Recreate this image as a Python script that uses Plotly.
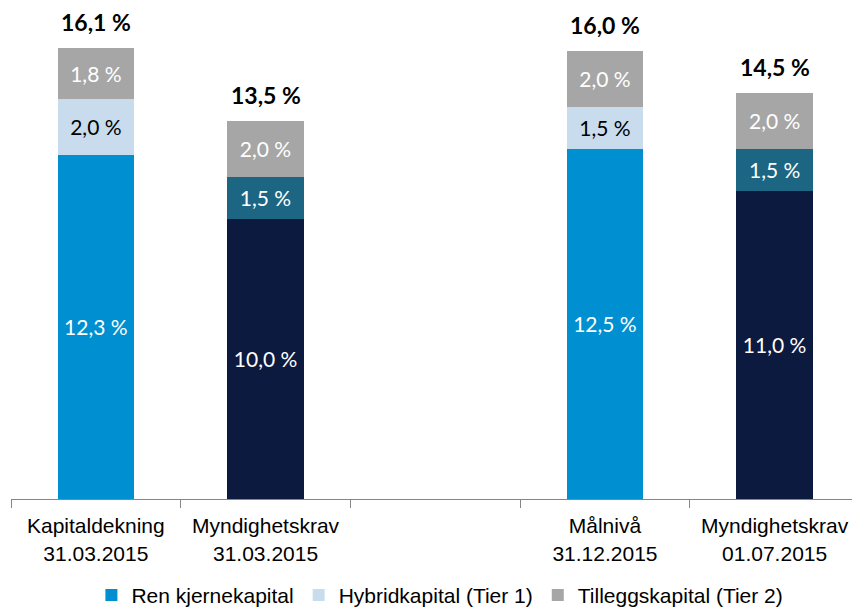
import plotly.graph_objects as go

categories = ["Kapitaldekning<br>31.03.2015", "Myndighetskrav<br>31.03.2015", "",
              "Målnivå<br>31.12.2015", "Myndighetskrav<br>01.07.2015"]
x_pos = [0, 1, 3, 4]
ren_kjerne = [12.3, 10.0, 12.5, 11.0]
hybrid = [2.0, 1.5, 1.5, 1.5]
tillegg = [1.8, 2.0, 2.0, 2.0]
totals = [16.1, 13.5, 16.0, 14.5]
series_names = ["Ren kjernekapital", "Hybridkapital (Tier 1)", "Tilleggskapital (Tier 2)"]

LIGHT = "#008FD0"
NAVY = "#0D1A3F"
PALE = "#C9DCEE"
TEAL = "#1C6684"
GREY = "#A6A6A6"

is_req = [False, True, False, True]

def fmt(v):
    return f"{v:.1f}".replace(".", ",") + " %"

fig = go.Figure()
label_font = "Lato, 'Open Sans', sans-serif"
axis_font = "'Liberation Sans', Arial, sans-serif"
fig.add_bar(x=x_pos, y=ren_kjerne, name=series_names[0],
            marker=dict(color=[NAVY if r else LIGHT for r in is_req], line=dict(width=0)),
            text=[fmt(v) for v in ren_kjerne], textposition="inside",
            insidetextanchor="middle", textangle=0,
            textfont=dict(color="white", size=21, family=label_font))
fig.add_bar(x=x_pos, y=hybrid, name=series_names[1],
            marker=dict(color=[TEAL if r else PALE for r in is_req], line=dict(width=0)),
            text=[fmt(v) for v in hybrid], textposition="inside",
            insidetextanchor="middle", textangle=0,
            textfont=dict(color=["white" if r else "black" for r in is_req], size=21, family=label_font))
fig.add_bar(x=x_pos, y=tillegg, name=series_names[2],
            marker=dict(color=GREY, line=dict(width=0)),
            text=[fmt(v) for v in tillegg], textposition="inside",
            insidetextanchor="middle", textangle=0,
            textfont=dict(color="white", size=21, family=label_font))

for xp, t in zip(x_pos, totals):
    fig.add_annotation(x=xp, y=t, text=f"<b>{fmt(t)}</b>", showarrow=False,
                       yanchor="bottom", yshift=10,
                       font=dict(size=23, color="black", family=label_font))

# overlay axis for boundary tick marks
fig.add_scatter(x=[None], y=[None], xaxis="x2", showlegend=False, hoverinfo="skip")

fig.update_layout(
    barmode="stack", bargap=0.55,
    width=852, height=610,
    margin=dict(l=11, r=0, t=0, b=111, autoexpand=False),
    plot_bgcolor="white", paper_bgcolor="white",
    uniformtext=dict(mode=False),
    xaxis=dict(range=[-0.5, 4.456], tickvals=list(range(5)), ticktext=categories,
               ticks="", showline=True, linecolor="#868686", linewidth=1,
               showgrid=False, zeroline=False, ticklabelstandoff=8, automargin=False,
               tickfont=dict(family=axis_font, size=21, color="black")),
    xaxis2=dict(range=[-0.5, 4.456], overlaying="x",
                tickvals=[i - 0.5 for i in range(6)], ticktext=[""] * 6,
                ticks="outside", ticklen=8, tickcolor="#868686", tickwidth=1,
                showgrid=False, zeroline=False, showline=False, side="bottom", anchor="y"),
    yaxis=dict(range=[0, 17.82], visible=False, showgrid=False, zeroline=False),
    legend=dict(orientation="h", x=0.51, xanchor="center", y=-0.152, yanchor="top",
                traceorder="normal",
                font=dict(family=axis_font, size=21, color="black"),
                itemwidth=30),
    showlegend=True,
)
fig.write_html("out.html")
